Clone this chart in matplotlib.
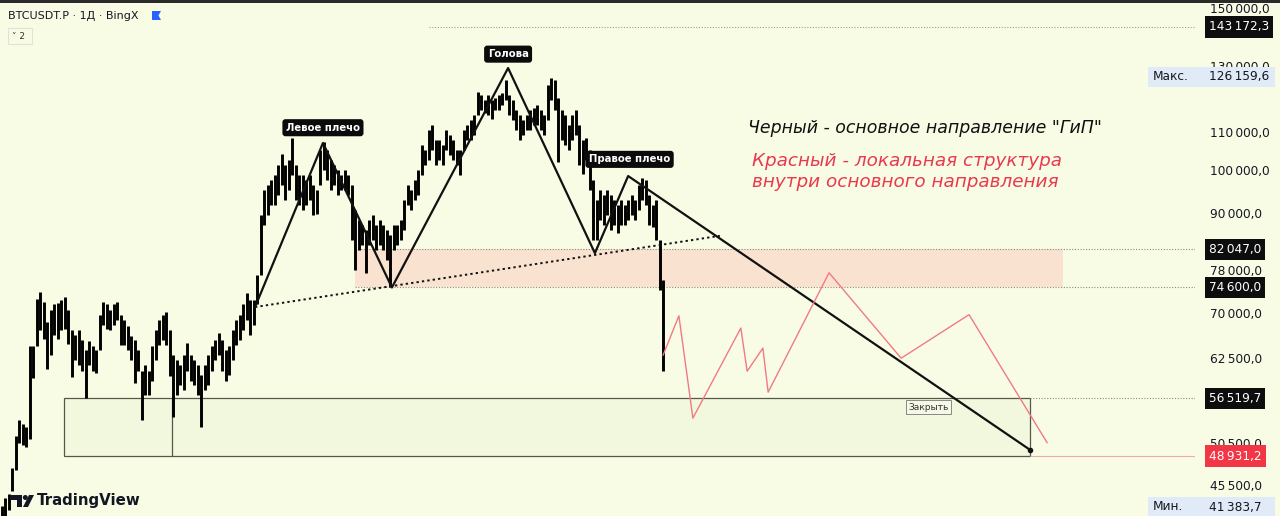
import numpy as np
import matplotlib.pyplot as plt
from matplotlib.patches import Rectangle, Polygon, Circle
from matplotlib.ticker import FuncFormatter, NullLocator

# BTCUSDT.P 1D, candles grouped 4 days per bar (high / low, thousands USD)
hi = [43.2, 44.0, 44.5, 47.5, 51.5, 53.5, 53.0, 52.6, 64.5, 64.5,
      72.5, 73.8, 72.0, 68.5, 70.5, 71.5, 71.8, 72.3, 72.8, 70.5,
      67.0, 66.2, 67.0, 65.4, 63.8, 65.3, 64.5, 63.8, 69.6, 72.0,
      71.5, 70.5, 71.5, 72.0, 69.6, 68.7, 67.8, 66.1, 65.4, 63.8,
      60.6, 61.4, 60.6, 64.5, 67.0, 68.7, 69.6, 70.1, 67.0, 63.0,
      62.2, 61.4, 63.0, 65.0, 63.0, 62.2, 61.4, 59.9, 61.4, 63.0,
      64.5, 65.4, 66.5, 65.4, 63.8, 64.5, 67.0, 68.7, 69.6, 71.5,
      73.6, 72.3, 72.3, 77.0, 89.4, 95.2, 96.4, 97.6, 98.8, 101.4,
      104.3, 101.4, 102.6, 108.5, 101.4, 98.8, 98.8, 97.6, 98.8, 96.4,
      95.2, 105.2, 107.3, 105.2, 102.6, 101.4, 100.1, 98.8, 100.1, 98.8,
      96.4, 90.5, 88.3, 87.2, 86.1, 88.3, 89.4, 87.2, 88.3, 87.2,
      86.1, 85.0, 87.2, 87.2, 88.3, 92.8, 96.4, 95.2, 97.6, 100.1,
      106.5, 105.2, 110.6, 112.0, 107.9, 107.9, 106.5, 110.6, 109.2, 107.9,
      105.2, 105.2, 110.6, 112.0, 113.4, 114.8, 121.6, 120.8, 119.3, 120.8,
      119.3, 119.8, 120.8, 121.3, 125.4, 120.8, 119.3, 116.3, 114.8, 113.4,
      114.8, 116.3, 117.0, 117.8, 116.3, 114.8, 123.8, 126.1, 125.4, 119.8,
      116.3, 114.8, 112.0, 114.8, 116.3, 112.0, 107.9, 108.5, 105.2, 97.6,
      92.8, 95.2, 94.0, 95.2, 94.0, 92.8, 91.6, 92.8, 91.6, 92.8,
      94.0, 92.8, 96.4, 98.2, 97.6, 94.0, 91.6, 92.8, 84.0, 76.0]
lo = [41.5, 42.0, 42.8, 44.8, 47.2, 50.5, 50.3, 50.0, 51.0, 59.5,
      64.5, 67.0, 65.5, 60.8, 63.0, 66.2, 65.5, 67.0, 67.2, 64.8,
      59.6, 62.2, 61.4, 60.6, 56.6, 61.4, 60.6, 60.3, 63.8, 68.0,
      67.2, 67.0, 68.0, 68.7, 64.6, 64.6, 63.8, 62.2, 58.7, 60.6,
      53.5, 57.0, 57.0, 59.1, 62.2, 64.6, 65.4, 64.6, 59.8, 54.0,
      57.0, 58.4, 57.7, 60.6, 59.1, 58.4, 57.0, 52.6, 57.7, 58.4,
      60.6, 62.2, 63.0, 60.6, 59.1, 59.9, 62.2, 64.6, 65.4, 67.0,
      68.7, 66.2, 68.0, 71.6, 77.0, 87.2, 89.4, 91.6, 91.6, 94.0,
      96.4, 92.8, 95.2, 98.8, 92.8, 91.6, 90.5, 91.6, 92.8, 89.4,
      89.6, 96.4, 100.1, 97.6, 95.2, 96.4, 94.0, 95.2, 95.2, 94.0,
      84.0, 78.0, 81.9, 83.0, 77.3, 83.0, 84.0, 81.9, 83.0, 81.9,
      79.9, 74.6, 81.9, 83.0, 84.0, 86.1, 91.6, 90.5, 92.8, 94.0,
      98.8, 101.4, 102.6, 105.2, 101.4, 102.6, 101.4, 105.2, 103.9, 102.6,
      101.4, 98.8, 105.2, 107.9, 107.9, 109.2, 114.8, 116.3, 115.5, 114.8,
      113.7, 116.3, 116.3, 117.8, 119.3, 114.8, 113.4, 110.6, 107.9, 109.2,
      110.6, 110.6, 112.0, 112.0, 110.6, 109.2, 113.4, 119.3, 116.3, 102.0,
      107.9, 106.5, 105.2, 107.9, 109.2, 101.4, 99.1, 102.6, 95.2, 84.0,
      84.0, 88.3, 87.2, 89.4, 86.1, 87.2, 85.5, 87.2, 87.2, 88.3,
      89.4, 88.3, 90.5, 92.8, 91.6, 87.2, 86.8, 84.0, 74.1, 60.5]

# head & shoulders (black), neckline (dotted) and local structure (red)
hs_x = [72.3, 91.7, 111.4, 144.6, 169.4, 178.9, 293.7]
hs_y = [71040, 107100, 74600, 129200, 81300, 98600, 49700]
neck_x = [72.3, 205.1]
neck_y = [71040, 84900]
red_x = [188.9, 193.4, 197.4, 211.1, 212.9, 217.4, 218.9, 236.3, 256.9, 276.3, 298.6]
red_y = [63000, 69500, 53800, 67400, 60500, 64100, 57400, 77400, 62500, 69700, 50600]

# zones
zone_top, zone_bot = 82047.0, 74600.0
zone_x = [100.9, 303.1]
box_top, box_bot = 56519.7, 48931.2
box_x = [17.7, 293.7]
box_split = 48.6
top_level = 143172.3
top_level_x = 122.0

price_ticks = [150000, 130000, 110000, 100000, 90000, 78000, 70000, 62500, 50500, 45500]
marked = [143172.3, 82047.0, 74600.0, 56519.7]
last_price = 48931.2
max_price, min_price = 126159.6, 41383.7

bg = '#f9fce5'
right = 340.86


def fmt(v, pos=None):
    return '{:,.1f}'.format(v).replace(',', '\u2009').replace('.', ',')


fig = plt.figure(figsize=(12.8, 5.16), dpi=100)
fig.patch.set_facecolor(bg)
ax = fig.add_axes([0, 0, 1195 / 1280, 1])
ax.set_facecolor(bg)
ax.set_yscale('log')
ax.set_ylim(42110, 153180)
ax.set_xlim(-0.571, right)
for s in ax.spines.values():
    s.set_visible(False)
ax.set_xticks([])
ax.yaxis.tick_right()
ax.set_yticks(price_ticks)
ax.yaxis.set_minor_locator(NullLocator())
ax.yaxis.set_major_formatter(FuncFormatter(fmt))
ax.tick_params(axis='y', length=0, pad=11, labelsize=8.7, labelcolor='#131722')

# zones
ax.add_patch(Rectangle((zone_x[0], zone_bot), zone_x[1] - zone_x[0], zone_top - zone_bot,
                       fc='#f9e3d0', ec='none', zorder=1))
ax.hlines([zone_top, zone_bot], zone_x[0], right, colors='#8a8a80', lw=0.8, linestyles=(0, (1, 1.5)), zorder=2)
ax.add_patch(Rectangle((box_x[0], box_bot), box_x[1] - box_x[0], box_top - box_bot,
                       fc='#f2f8dd', ec='#55564c', lw=0.9, zorder=1))
ax.vlines(box_split, box_bot, box_top, colors='#55564c', lw=0.9, zorder=2)
ax.hlines(box_top, box_x[1], right, colors='#8a8a80', lw=0.8, linestyles=(0, (1, 1.5)), zorder=2)
ax.hlines(last_price, box_x[1], right, colors='#f4a8ae', lw=0.8, zorder=2)
ax.hlines(top_level, top_level_x, right, colors='#9a9a90', lw=0.8, linestyles=(0, (1, 1.5)), zorder=2)
ax.text(264.8, 55300, 'Закрыть', fontsize=6.5, color='#333', ha='center', va='center', zorder=3,
        bbox=dict(boxstyle='square,pad=0.25', fc='#f6f9e6', ec='#888', lw=0.7))

# candles
idx = np.arange(len(hi))
ax.vlines(idx, np.array(lo) * 1000, np.array(hi) * 1000, colors='#000000', lw=2.1, zorder=3)

# pattern lines
ax.plot(neck_x, neck_y, color='#111', lw=1.4, ls=(0, (1.2, 1.6)), zorder=4)
ax.plot(hs_x, hs_y, color='#111', lw=1.6, zorder=5)
ax.plot(hs_x[-1], hs_y[-1], 'o', color='#111', ms=3, zorder=5)
ax.plot(red_x, red_y, color='#f07a84', lw=1.0, zorder=5)

lab = dict(fontsize=7.3, fontweight='bold', color='white', ha='center', va='center',
           textcoords='offset points', zorder=6,
           bbox=dict(boxstyle='round,pad=0.35,rounding_size=0.3', fc='#0b0b0b', ec='none'))
ax.annotate('Левое плечо', (hs_x[1], hs_y[1]), xytext=(0, 11), **lab)
ax.annotate('Голова', (hs_x[3], hs_y[3]), xytext=(0, 10), **lab)
ax.annotate('Правое плечо', (hs_x[5], hs_y[5]), xytext=(1, 12), **lab)

# overlay in pixel units for text and labels
ov = fig.add_axes([0, 0, 1, 1])
ov.set_xlim(0, 1280)
ov.set_ylim(516, 0)
ov.axis('off')


def ypix(v):
    return fig.bbox.height - ax.transData.transform((0, v))[1]


for v in marked:
    ov.text(1209, ypix(v), fmt(v), fontsize=8.7, color='white', ha='left', va='center',
            bbox=dict(boxstyle='square,pad=0.35', fc='#0d0d0d', ec='none'))
ov.text(1209, ypix(last_price), fmt(last_price), fontsize=8.7, color='white', ha='left', va='center',
        bbox=dict(boxstyle='square,pad=0.35', fc='#f23645', ec='none'))
ym = ypix(max_price) - 1
ov.add_patch(Rectangle((1148, ym - 10), 127, 20, fc='#e1ebf7', ec='none'))
ov.text(1153, ym, 'Макс.', fontsize=8.7, color='#131722', va='center')
ov.text(1209, ym, fmt(max_price), fontsize=8.7, color='#131722', va='center')
yn = min(ypix(min_price), 507)
ov.add_patch(Rectangle((1148, yn - 10), 127, 20, fc='#e1ebf7', ec='none'))
ov.text(1153, yn, 'Мин.', fontsize=8.7, color='#131722', va='center')
ov.text(1209, yn, fmt(min_price), fontsize=8.7, color='#131722', va='center')

# header
ov.add_patch(Rectangle((0, 0), 1280, 3, fc='#2b2b2b', ec='none'))
ov.text(8, 15.5, 'BTCUSDT.P · 1Д · BingX', fontsize=8, color='#131722', va='center')
ov.add_patch(Polygon([(152, 11), (161, 11), (158.5, 15.5), (161, 20), (152, 20)], fc='#2962ff', ec='none'))
ov.add_patch(Rectangle((8, 28), 24, 16, fc='none', ec='#e0e2d8', lw=0.8))
ov.text(12, 36.5, '˅ 2', fontsize=6.5, color='#333', va='center')

# logo
ov.add_patch(Polygon([(10, 495), (22, 495), (22, 507), (17, 507), (17, 499.5), (10, 499.5)], fc='#131722'))
ov.add_patch(Circle((25.3, 497.5), 2.5, fc='#131722'))
ov.add_patch(Polygon([(29, 495), (34, 495), (28, 507), (23, 507)], fc='#131722'))
ov.text(37, 501, 'TradingView', fontsize=10.8, fontweight='bold', color='#131722', va='center')

# notes
ov.text(748, 128, 'Черный - основное направление "ГиП"', fontsize=12.5, style='italic',
        color='#111', va='center')
ov.text(752, 161, 'Красный - локальная структура', fontsize=13.2, style='italic',
        color='#e8394f', va='center')
ov.text(752, 182, 'внутри основного направления', fontsize=13.2, style='italic',
        color='#e8394f', va='center')

fig.savefig('out.png', dpi=100, facecolor=bg)
